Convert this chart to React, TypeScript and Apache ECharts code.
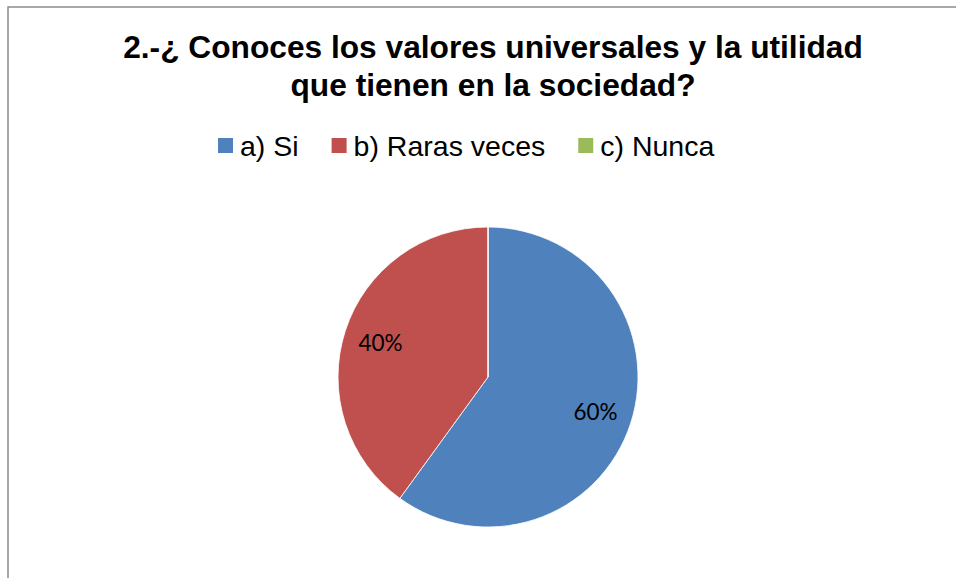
import React, { useEffect, useRef } from "react";
import * as echarts from "echarts";

const titleLines = ["2.-¿ Conoces los valores universales y la utilidad", "que tienen en la sociedad?"];
const categories = ["a) Si", "b) Raras veces", "c) Nunca"];
const values = [60, 40, 0];
const colors = ["#4F81BD", "#C0504D", "#9BBB59"];

export default function App() {
  const ref = useRef<HTMLDivElement>(null);
  useEffect(() => {
    if (!ref.current) return;
    const chart = echarts.init(ref.current, null, { renderer: "svg" });
    const data = categories.map((name, i) => ({ name, value: values[i], itemStyle: { color: colors[i] } }));
    chart.setOption({
      animation: false,
      backgroundColor: "#ffffff",
      graphic: [
        {
          type: "rect",
          shape: { x: 8, y: 7, width: 1000, height: 700 },
          style: { fill: "none", stroke: "#8c8c8c", lineWidth: 1.5 },
          silent: true,
        },
      ],
      title: {
        text: titleLines.join("\n"),
        left: 488,
        textAlign: "center",
        top: 23,
        textStyle: {
          fontFamily: "Liberation Sans, Arial, sans-serif",
          fontWeight: "bold",
          fontSize: 31.7,
          lineHeight: 38,
          color: "#000",
        },
      },
      legend: {
        top: 131,
        left: 218,
        padding: 0,
        itemWidth: 15,
        itemHeight: 15,
        itemGap: 33,
        icon: "rect",
        data: categories.map((name, i) => ({ name, itemStyle: { color: colors[i], borderWidth: 0 } })),
        textStyle: {
          fontFamily: "Liberation Sans, Arial, sans-serif",
          fontSize: 28.5,
          color: "#000",
          padding: [0, 0, 0, 2],
        },
      },
      series: [
        {
          type: "pie",
          center: [488, 377],
          radius: [0, 150],
          startAngle: 90,
          clockwise: true,
          label: { show: false },
          labelLine: { show: false },
          itemStyle: { borderColor: "#ffffff", borderWidth: 0.8 },
          emphasis: { disabled: true },
          data,
        },
        {
          type: "pie",
          center: [488, 377],
          radius: [0, 220],
          startAngle: 90,
          clockwise: true,
          silent: true,
          label: {
            show: true,
            position: "inside",
            formatter: (p: any) => (p.value > 0 ? p.value + "%" : ""),
            fontFamily: "Lato, Open Sans, sans-serif",
            fontSize: 22.5,
            color: "#000",
          },
          labelLine: { show: false },
          itemStyle: { color: "rgba(0,0,0,0)", borderWidth: 0 },
          emphasis: { disabled: true },
          data: categories.map((name, i) => ({ name, value: values[i] })),
          z: 5,
        },
      ],
    });
    return () => chart.dispose();
  }, []);
  return <div ref={ref} style={{ position: "absolute", left: 0, top: 0, width: 956, height: 578 }} />;
}
